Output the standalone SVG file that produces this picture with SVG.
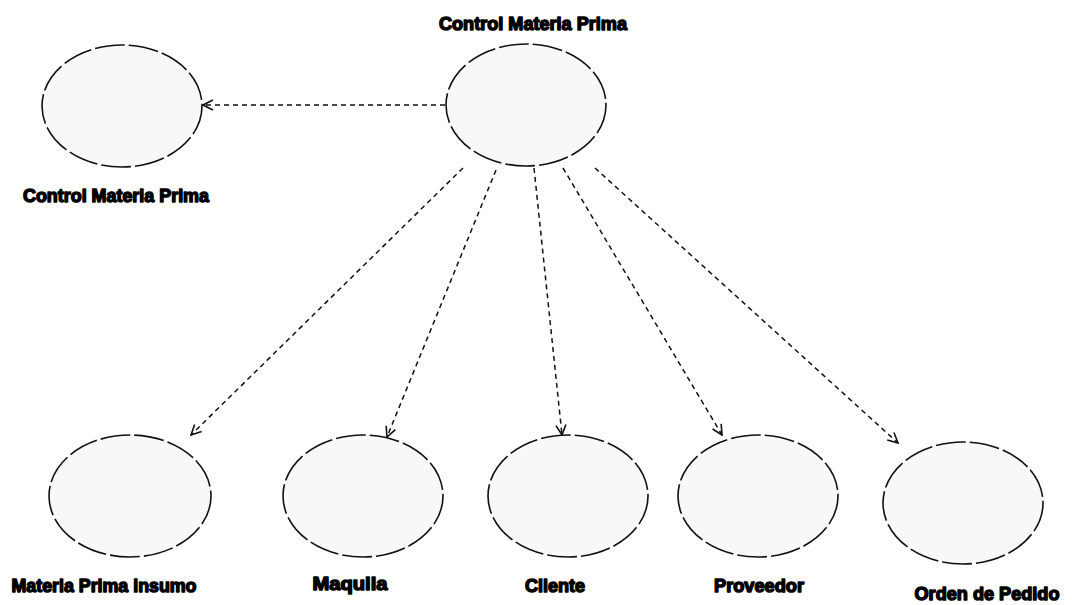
<svg xmlns="http://www.w3.org/2000/svg" width="1072" height="605" viewBox="0 0 1072 605">
  <style>
    .uc { fill: #f8f8f8; stroke: #111; stroke-width: 1.6; stroke-dasharray: 30 4; }
    .lbl { font-family: "Liberation Sans", Arial, sans-serif; font-weight: bold; font-size: 17.5px; fill: #000; stroke: #000; stroke-width: 1.4; stroke-linejoin: round; text-anchor: middle; }
    .dep { fill: none; stroke: #111; stroke-width: 1.5; stroke-dasharray: 5 4; marker-end: url(#open); }
  </style>
  <defs>
    <marker id="open" viewBox="0 0 12 12" refX="11" refY="6" markerWidth="12" markerHeight="12" markerUnits="userSpaceOnUse" orient="auto">
      <path d="M1,1 L11,6 L1,11" fill="none" stroke="#111" stroke-width="1.6"/>
    </marker>
  </defs>
  <rect width="1072" height="605" fill="#fff"/>

  <!-- dependencies -->
  <g id="connectors">
    <line class="dep" x1="445" y1="105" x2="203" y2="105"/>
    <line class="dep" x1="463" y1="168" x2="191" y2="435"/>
    <line class="dep" x1="496" y1="170" x2="387" y2="437"/>
    <line class="dep" x1="534" y1="168" x2="562" y2="435"/>
    <line class="dep" x1="563" y1="168" x2="722" y2="435"/>
    <line class="dep" x1="595" y1="168" x2="898" y2="443"/>
  </g>

  <g id="control-main">
    <ellipse class="uc" cx="526" cy="105" rx="80" ry="61"/>
    <text class="lbl" x="533" y="30" textLength="188" lengthAdjust="spacingAndGlyphs">Control Materia Prima</text>
  </g>

  <g id="control-left">
    <ellipse class="uc" cx="122" cy="106" rx="80" ry="61"/>
    <text class="lbl" x="116" y="202" textLength="186" lengthAdjust="spacingAndGlyphs">Control Materia Prima</text>
  </g>

  <g id="materia-prima">
    <ellipse class="uc" cx="130" cy="496" rx="81" ry="61"/>
    <text class="lbl" x="104" y="592" textLength="185" lengthAdjust="spacingAndGlyphs">Materia Prima insumo</text>
  </g>

  <g id="maquila">
    <ellipse class="uc" cx="363" cy="496" rx="80" ry="61"/>
    <text class="lbl" x="350" y="590" textLength="75" lengthAdjust="spacingAndGlyphs">Maquila</text>
  </g>

  <g id="cliente">
    <ellipse class="uc" cx="568" cy="496" rx="80" ry="61"/>
    <text class="lbl" x="555" y="592" textLength="60" lengthAdjust="spacingAndGlyphs">Cliente</text>
  </g>

  <g id="proveedor">
    <ellipse class="uc" cx="758" cy="496" rx="80" ry="61"/>
    <text class="lbl" x="759" y="592" textLength="90" lengthAdjust="spacingAndGlyphs">Proveedor</text>
  </g>

  <g id="orden-pedido">
    <ellipse class="uc" cx="963" cy="503" rx="80" ry="61"/>
    <text class="lbl" x="987" y="600" textLength="145" lengthAdjust="spacingAndGlyphs">Orden de Pedido</text>
  </g>
</svg>
